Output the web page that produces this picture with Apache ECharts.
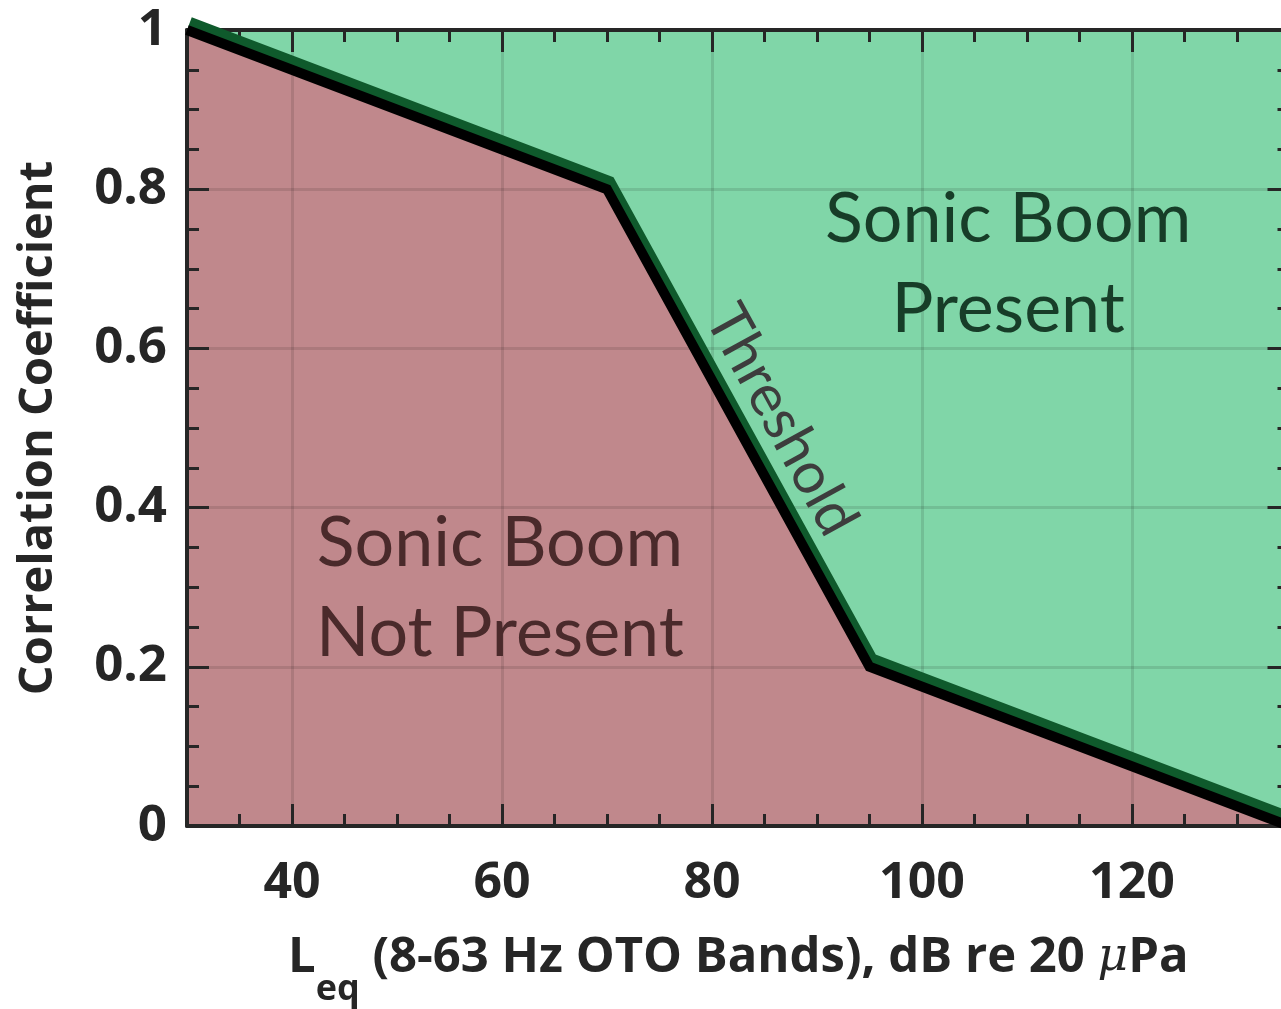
<!DOCTYPE html>
<html>
<head>
<meta charset="utf-8">
<script src="https://cdn.jsdelivr.net/npm/echarts@6/dist/echarts.min.js"></script>
<style>
  html, body { margin: 0; padding: 0; background: #ffffff; }
  #chart { width: 1281px; height: 1009px; }
</style>
</head>
<body>
<div id="chart"></div>
<script>
// Threshold curve: correlation coefficient vs. Leq
const thresholdX = [30, 70, 95, 135];
const thresholdY = [1, 0.8, 0.2, 0];

// Axis ranges and tick labels
const xRange = [30, 135];
const yRange = [0, 1];
const xTickLabels = [40, 60, 80, 100, 120];
const yTickLabels = [0, 0.2, 0.4, 0.6, 0.8, 1];
const xGridLines = [40, 60, 80, 100, 120];
const yGridLines = [0.2, 0.4, 0.6, 0.8];

// Region annotations (data coordinates of each text block's centre)
const regionTexts = ['Sonic Boom\nPresent', 'Sonic Boom\nNot Present'];
const regionTextX = [108.2, 59.8];
const regionTextY = [0.705, 0.299];
const thresholdText = 'Threshold';
const thresholdTextAt = [86.6, 0.51];

const GREEN = '#80d6a8';
const RED = '#c0888c';
const EDGE = '#0f5a2c';
const AXIS = '#262626';

const thresholdData = thresholdX.map((x, i) => [x, thresholdY[i]]);

const chart = echarts.init(document.getElementById('chart'), null, { renderer: 'canvas' });

const minorX = {
  type: 'value', min: xRange[0], max: xRange[1], interval: 5, gridIndex: 0,
  axisLine: { show: true, onZero: false, lineStyle: { color: AXIS, width: 4 } },
  axisTick: { show: true, inside: true, length: 12, lineStyle: { color: AXIS, width: 3 } },
  axisLabel: { show: false },
  splitLine: { show: false },
  z: 5
};
const majorX = {
  type: 'value', min: xRange[0], max: xRange[1], gridIndex: 0,
  axisLine: { show: false, onZero: false },
  axisTick: { show: true, inside: true, length: 22, customValues: xTickLabels, lineStyle: { color: AXIS, width: 3 } },
  axisLabel: { show: false },
  splitLine: { show: false },
  z: 5
};

const option = {
  animation: false,
  backgroundColor: '#ffffff',
  grid: {
    left: 187, top: 30, width: 1102.5, height: 796,
    outerBoundsMode: 'none', containLabel: false,
    show: true, backgroundColor: GREEN, borderWidth: 0
  },
  xAxis: [
    Object.assign({}, minorX, { position: 'bottom',
      name: '{b|L}{sub|eq}{b| (8-63 Hz OTO Bands), dB re 20 }{mu|μ}{b|Pa}',
      nameLocation: 'middle', nameGap: 108,
      nameTextStyle: {
        rich: {
          b: { fontFamily: 'Open Sans', fontWeight: 'bold', fontSize: 49, color: AXIS, lineHeight: 56, verticalAlign: 'top' },
          sub: { fontFamily: 'Open Sans', fontWeight: 'bold', fontSize: 36, color: AXIS, lineHeight: 56, padding: [38, 0, 0, 0], verticalAlign: 'top' },
          mu: { fontFamily: 'DejaVu Serif', fontStyle: 'italic', fontSize: 47, color: AXIS, lineHeight: 56, verticalAlign: 'top' }
        }
      }
    }),
    Object.assign({}, majorX, { position: 'bottom',
      axisLabel: { show: true, customValues: xTickLabels, margin: 33,
        fontFamily: 'Open Sans', fontWeight: 'bold', fontSize: 50, color: AXIS }
    }),
    Object.assign({}, minorX, { position: 'top' }),
    Object.assign({}, majorX, { position: 'top' })
  ],
  yAxis: [
    {
      type: 'value', min: yRange[0], max: yRange[1], interval: 0.2, position: 'left',
      axisLine: { show: true, onZero: false, lineStyle: { color: AXIS, width: 4 } },
      axisTick: { show: true, inside: true, length: 22, lineStyle: { color: AXIS, width: 3 } },
      minorTick: { show: true, splitNumber: 4, length: 12, lineStyle: { color: AXIS, width: 3 } },
      axisLabel: { show: true, margin: 20, fontFamily: 'Open Sans', fontWeight: 'bold', fontSize: 51, color: AXIS,
        formatter: v => String(yTickLabels.find(t => Math.abs(t - v) < 1e-9) ?? '') },
      splitLine: { show: false },
      name: 'Correlation Coefficient', nameLocation: 'middle', nameGap: 125,
      nameTextStyle: { fontFamily: 'Open Sans', fontWeight: 'bold', fontSize: 47, color: AXIS },
      z: 5
    },
    {
      type: 'value', min: yRange[0], max: yRange[1], interval: 0.2, position: 'right',
      axisLine: { show: true, onZero: false, lineStyle: { color: AXIS, width: 4 } },
      axisTick: { show: true, inside: true, length: 22, lineStyle: { color: AXIS, width: 3 } },
      minorTick: { show: true, splitNumber: 4, length: 12, lineStyle: { color: AXIS, width: 3 } },
      axisLabel: { show: false },
      splitLine: { show: false },
      z: 5
    }
  ],
  series: [
    {
      // region below the threshold
      name: 'Not present', type: 'line', data: thresholdData, xAxisIndex: 0, yAxisIndex: 0,
      symbol: 'none', lineStyle: { width: 0 },
      areaStyle: { color: RED, opacity: 1, origin: 'start' },
      z: 2, silent: true
    },
    {
      // faint grid lines over both regions
      name: 'grid', type: 'line', data: [], xAxisIndex: 0, yAxisIndex: 0, z: 3,
      markLine: {
        silent: true, symbol: 'none', label: { show: false },
        lineStyle: { color: 'rgba(0,0,0,0.11)', width: 3, type: 'solid' },
        data: xGridLines.map(v => ({ xAxis: v })).concat(yGridLines.map(v => ({ yAxis: v })))
      }
    },
    {
      name: 'Threshold', type: 'line', data: thresholdData, xAxisIndex: 0, yAxisIndex: 0,
      symbol: 'none', clip: false,
      lineStyle: { color: '#000000', width: 10, join: 'miter',
        shadowColor: EDGE, shadowBlur: 0, shadowOffsetX: 3, shadowOffsetY: -8 },
      z: 6, silent: true
    }
  ]
};

chart.setOption(option);

// Place annotations at data positions
const graphics = [];
const regionColors = ['#173d28', '#4a2a2b'];
regionTexts.forEach((t, i) => {
  const p = chart.convertToPixel({ gridIndex: 0 }, [regionTextX[i], regionTextY[i]]);
  graphics.push({
    type: 'text', x: p[0], y: p[1], z: 10,
    style: { text: t, fill: regionColors[i], font: '400 70px Lato', align: 'center', verticalAlign: 'middle', lineHeight: 90 }
  });
});
const a = chart.convertToPixel({ gridIndex: 0 }, thresholdData[1]);
const b = chart.convertToPixel({ gridIndex: 0 }, thresholdData[2]);
const ang = Math.atan2(b[1] - a[1], b[0] - a[0]);
const tp = chart.convertToPixel({ gridIndex: 0 }, thresholdTextAt);
graphics.push({
  type: 'text', x: tp[0], y: tp[1], rotation: -ang, z: 10,
  style: { text: thresholdText, fill: '#3d3d3d', font: '400 58px Lato', align: 'center', verticalAlign: 'middle' }
});
chart.setOption({ graphic: graphics });
</script>
</body>
</html>
